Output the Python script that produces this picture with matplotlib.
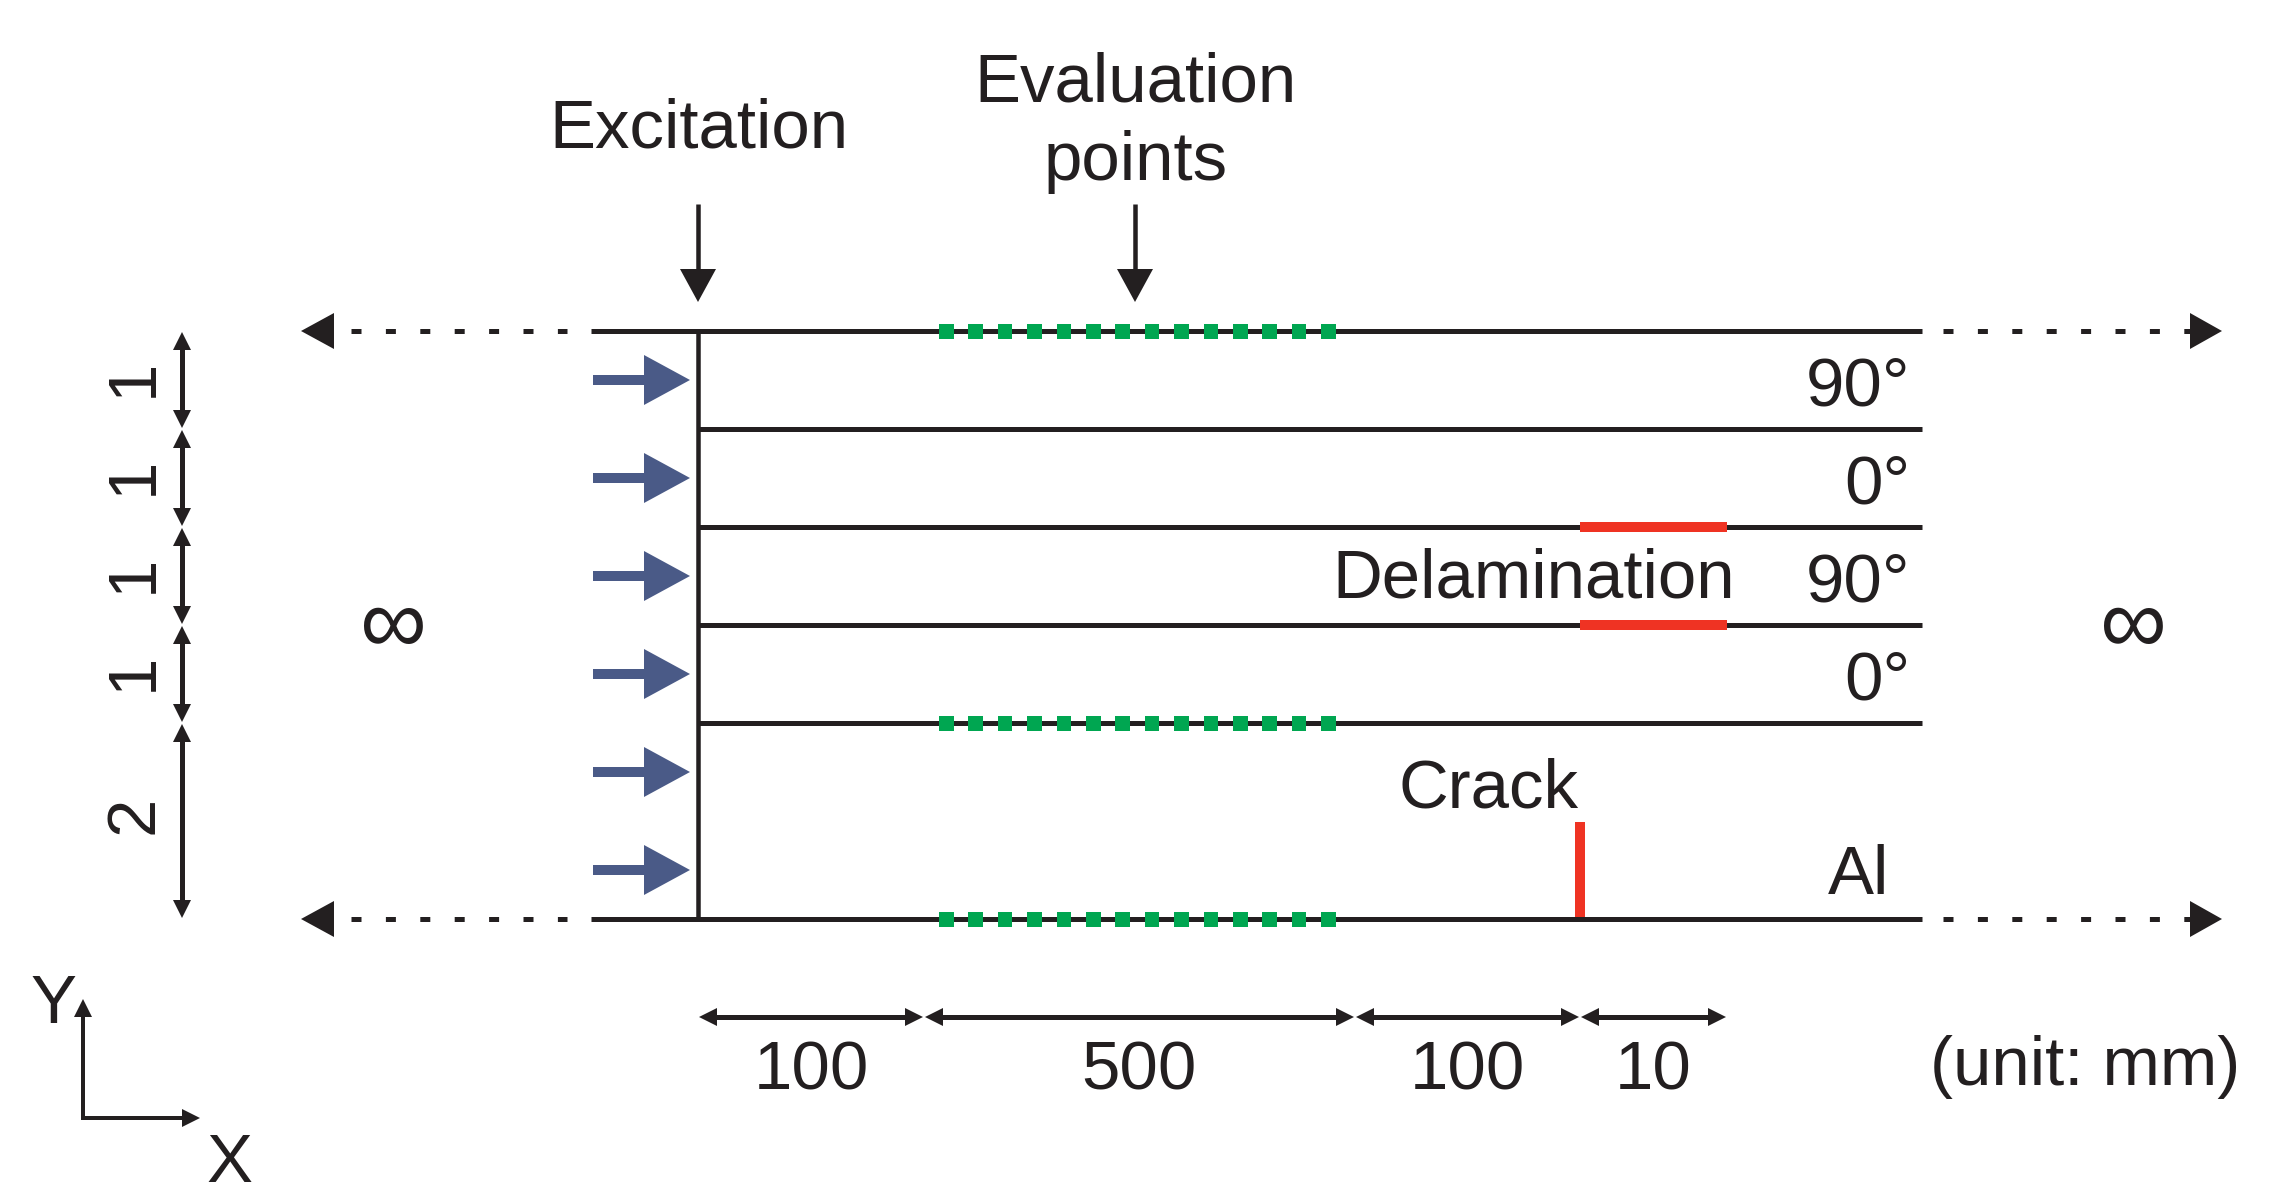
import numpy as np
import matplotlib
matplotlib.use('Agg')
import matplotlib.pyplot as plt
from matplotlib.patches import Polygon, Rectangle

plt.rcParams['font.family'] = 'Liberation Sans'

# layer stack, thickness in mm (top to bottom)
thickness = [1, 1, 1, 1, 2]
thickness_labels = ['1', '1', '1', '1', '2']
layer_names = ['90°', '0°', '90°', '0°']

# x sections along the plate, mm (not drawn to scale)
section_labels = ['100', '500', '100', '10']
section_edges = [698, 924, 1355, 1580, 1727]
section_text_x = [811, 1139, 1467, 1653]

DARK = '#231f20'
BLUE = '#4a5a87'
GREEN = '#00a651'
RED = '#ef3323'
PX = 0.72  # one pixel in points at dpi 100
FS = 49.7

fig = plt.figure(figsize=(22.92, 12.04), dpi=100)
ax = fig.add_axes([0, 0, 1, 1])
ax.set_xlim(0, 2292)
ax.set_ylim(1204, 0)
ax.axis('off')

y_top = 331
unit = 98
y_levels = y_top + unit * np.concatenate([[0], np.cumsum(thickness)])
y_bottom = y_levels[-1]
x_wall = 698
x_end = 1922


def line(xs, ys, width=5, color=DARK, **kw):
    ax.plot(xs, ys, color=color, lw=width * PX, solid_capstyle='butt', **kw)


def head(tip, direction, length, half, color=DARK):
    # triangle arrow head, direction is a unit vector
    x, y = tip
    dx, dy = direction
    bx, by = x - dx * length, y - dy * length
    pts = [(x, y), (bx - dy * half, by + dx * half), (bx + dy * half, by - dx * half)]
    ax.add_patch(Polygon(pts, closed=True, fc=color, ec='none', zorder=4))


def label(x, y, s, size=FS, **kw):
    ax.text(x, y, s, fontsize=size, color=DARK, ha=kw.pop('ha', 'center'), va='baseline',
            rotation_mode='anchor', **kw)


# layer lines
for i, y in enumerate(y_levels):
    if i == 0 or i == len(y_levels) - 1:
        line([591, x_end], [y, y])
    else:
        line([x_wall, x_end], [y, y])
line([x_wall, x_wall], [y_top - 2, y_bottom + 2], width=4.5)

# dotted extensions with end arrows
for y in [y_top, y_bottom]:
    ax.plot([351, 567], [y, y], color=DARK, lw=5 * PX, dash_capstyle='butt',
            linestyle=(0, (2, 4.88)))
    ax.plot([1943, 2192], [y, y], color=DARK, lw=5 * PX, dash_capstyle='butt',
            linestyle=(0, (2, 4.88)))
    head((301, y), (-1, 0), 33, 18)
    head((2222, y), (1, 0), 32, 18)

# evaluation points
for y in [y_levels[0], y_levels[4], y_levels[5]]:
    for x in 939 + 29.4 * np.arange(14):
        ax.add_patch(Rectangle((x, y - 7.5), 14.5, 15, fc=GREEN, ec='none', zorder=3))

# delamination and crack
for y in [y_levels[2], y_levels[3]]:
    line([1580, 1727], [y, y], width=10, color=RED, zorder=3)
line([1580, 1580], [822, 917], width=10, color=RED, zorder=3)

# excitation arrows on the wall
for i in range(6):
    y = y_top + 49 + unit * i
    ax.add_patch(Rectangle((593, y - 5), 55, 10, fc=BLUE, ec='none'))
    head((690, y), (1, 0), 46, 25, color=BLUE)

# top arrows
for x in [698, 1135]:
    line([x, x], [204, 275], width=4.5)
    head((x, 302), (0, 1), 33, 18)

# thickness dimensions on the left
for i, t in enumerate(thickness):
    y0, y1 = y_levels[i], y_levels[i + 1]
    line([182, 182], [y0 + 10, y1 - 10], width=5)
    head((182, y0 + 1), (0, -1), 18, 9)
    head((182, y1 - 1), (0, 1), 18, 9)
    label(152, (y0 + y1) / 2 - (2 if t == 1 else 6), thickness_labels[i], rotation=90)

# section dimensions at the bottom
y_dim = 1017
for i, s in enumerate(section_labels):
    x0, x1 = section_edges[i], section_edges[i + 1]
    line([x0 + 10, x1 - 10], [y_dim, y_dim], width=5)
    head((x0 + 1, y_dim), (-1, 0), 18, 9)
    head((x1 - 1, y_dim), (1, 0), 18, 9)
    label(section_text_x[i], 1090, s)

# ply names
for i, name in enumerate(layer_names):
    label(1910, 405 + unit * i, name, ha='right')
label(1859, 894, 'Al')

label(699, 148, 'Excitation')
label(1135, 102, 'Evaluation')
label(1136, 180, 'points')
label(1534, 598, 'Delamination')
label(1488, 808, 'Crack')
label(2085, 1085, '(unit: mm)')

label(392, 653, '∞', size=FS * 1.36)
label(2132, 653, '∞', size=FS * 1.36)

# coordinate axes
line([83, 83], [1118, 1015], width=4)
head((83, 999), (0, -1), 18, 9)
line([81, 185], [1118, 1118], width=4)
head((200, 1118), (1, 0), 18, 9)
label(54, 1023, 'Y')
label(229, 1182, 'X')

fig.savefig('out.png', dpi=100, facecolor='white')
